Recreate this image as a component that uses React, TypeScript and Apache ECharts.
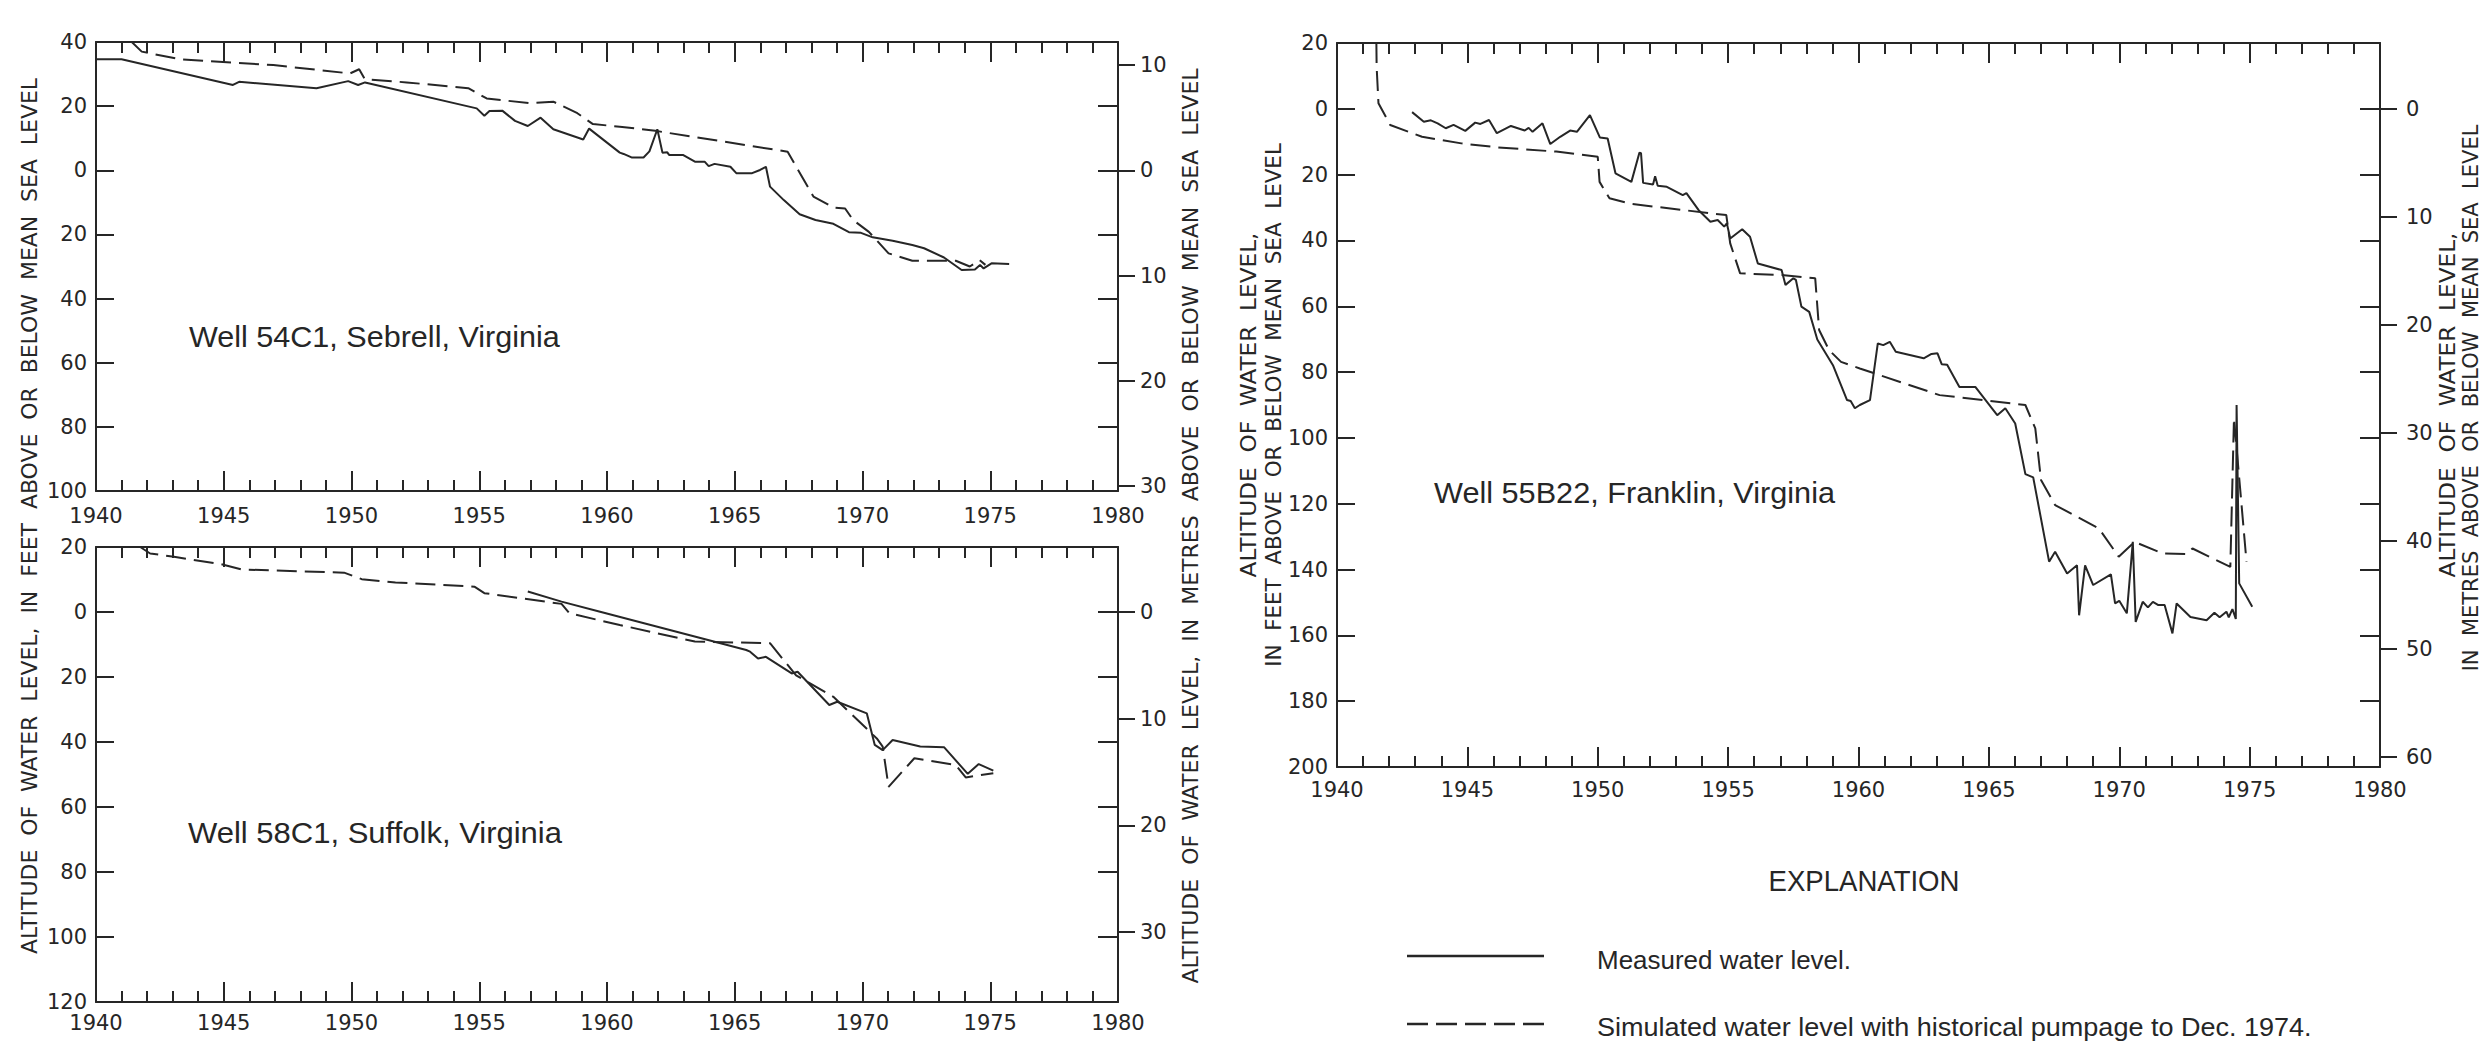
import React, { useEffect, useRef } from "react";
import * as echarts from "echarts";

// ---------- DATA ----------
const FT_PER_M = 3.28084;
const YEAR_MIN = 1940;
const YEAR_MAX = 1980;
const YEAR_STEP = 5;

// altitude ranges in feet (positive = above sea level)
const sebrellFeetRange = [-100, 40];
const suffolkFeetRange = [-120, 20];
const franklinFeetRange = [-200, 20];
const FEET_STEP = 20;

// metre tick values (right axes)
const sebrellMetreTicks = [-30, -20, -10, 0, 10];
const suffolkMetreTicks = [-30, -20, -10, 0];
const franklinMetreTicks = [-60, -50, -40, -30, -20, -10, 0];

// [year, altitude in feet]
const sebrellMeasured = [
  [1940.0, 34.6], [1941.0, 34.6], [1945.36, 26.6], [1945.6, 27.6], [1948.63, 25.6],
  [1949.87, 27.8], [1950.26, 26.6], [1950.53, 27.4], [1954.9, 19.3], [1955.2, 17.0],
  [1955.4, 18.5], [1955.9, 18.6], [1956.4, 15.4], [1956.9, 13.8], [1957.4, 16.4],
  [1957.9, 12.8], [1959.07, 9.6], [1959.3, 13.0], [1960.5, 5.5], [1960.65, 5.1],
  [1960.96, 4.0], [1961.43, 4.0], [1961.66, 5.9], [1961.97, 12.8], [1962.17, 5.5],
  [1962.36, 5.6], [1962.43, 4.8], [1962.97, 4.8], [1963.44, 2.7], [1963.82, 2.7],
  [1963.98, 1.3], [1964.21, 2.0], [1964.83, 1.1], [1965.06, -0.9], [1965.68, -0.9],
  [1965.99, 0.1], [1966.22, 1.1], [1966.38, -5.1], [1966.92, -9.3], [1967.54, -13.7],
  [1968.16, -15.5], [1968.86, -16.7], [1969.47, -19.3], [1969.94, -19.5], [1970.4, -20.9],
  [1971.18, -22.0], [1971.95, -23.3], [1972.41, -24.3], [1973.19, -27.2], [1973.88, -31.1],
  [1974.4, -30.9], [1974.6, -29.5], [1974.74, -30.6], [1975.05, -29.0], [1975.74, -29.2],
];
const sebrellSimulated = [
  [1941.4, 40.0], [1941.79, 37.0], [1943.29, 34.6], [1946.94, 32.8], [1949.94, 30.2],
  [1950.3, 31.5], [1950.52, 28.4], [1952.16, 27.4], [1954.57, 25.6], [1955.29, 22.4],
  [1956.99, 20.9], [1957.9, 21.4], [1958.84, 17.8], [1959.45, 14.4], [1960.5, 13.6],
  [1961.89, 12.3], [1967.07, 5.8], [1968.08, -8.2], [1968.86, -11.6], [1969.32, -11.9],
  [1969.63, -15.5], [1970.25, -19.2], [1971.02, -25.9], [1971.95, -28.2], [1973.65, -28.2],
  [1974.2, -30.0], [1974.58, -28.0], [1974.81, -29.5],
];

const suffolkMeasured = [
  [1956.9, 6.3], [1958.22, 3.2], [1959.73, 0.1], [1965.45, -11.7], [1965.6, -12.2],
  [1965.91, -14.3], [1966.22, -13.8], [1967.23, -18.9], [1967.46, -18.4], [1968.7, -28.6],
  [1969.01, -27.6], [1970.17, -31.2], [1970.48, -40.9], [1970.79, -42.5], [1971.18, -39.4],
  [1972.26, -41.4], [1973.19, -41.6], [1974.12, -49.8], [1974.55, -46.8], [1975.12, -48.8],
];
const suffolkSimulated = [
  [1941.73, 20.0], [1942.12, 18.0], [1943.05, 17.0], [1944.9, 14.7], [1945.68, 13.1],
  [1949.71, 12.1], [1950.4, 10.1], [1951.72, 9.1], [1954.81, 7.8], [1955.2, 5.8],
  [1958.22, 2.5], [1958.53, -0.4], [1960.5, -4.0], [1963.44, -9.1], [1966.38, -9.6],
  [1967.4, -19.5], [1968.86, -26.1], [1970.56, -38.9], [1970.79, -41.4], [1971.02, -53.8],
  [1972.03, -45.0], [1973.65, -47.1], [1974.04, -50.9], [1975.12, -49.6],
];

const franklinMeasured = [
  [1942.88, -1.0], [1943.33, -3.9], [1943.6, -3.5], [1943.86, -4.4], [1944.17, -5.9],
  [1944.47, -4.9], [1944.92, -6.7], [1945.3, -4.2], [1945.5, -4.6], [1945.83, -3.4],
  [1946.13, -7.4], [1946.67, -5.2], [1947.2, -6.6], [1947.35, -5.8], [1947.5, -7.0],
  [1947.88, -4.4], [1948.18, -10.7], [1948.56, -8.5], [1948.94, -6.6], [1949.2, -7.0],
  [1949.7, -1.9], [1950.08, -8.7], [1950.38, -9.0], [1950.68, -19.6], [1951.29, -22.2],
  [1951.6, -13.3], [1951.66, -13.5], [1951.74, -22.5], [1952.12, -23.0], [1952.2, -20.5],
  [1952.3, -23.4], [1952.65, -23.7], [1953.26, -26.2], [1953.4, -25.6], [1953.87, -30.8],
  [1954.32, -34.3], [1954.6, -33.8], [1954.85, -35.8], [1954.95, -34.8], [1955.08, -39.4],
  [1955.54, -36.6], [1955.84, -38.9], [1956.14, -47.0], [1957.05, -49.0], [1957.2, -53.5],
  [1957.5, -51.5], [1957.6, -52.0], [1957.81, -60.1], [1958.11, -61.7], [1958.42, -70.1],
  [1959.02, -77.9], [1959.56, -88.5], [1959.7, -88.8], [1959.86, -91.0], [1960.05, -90.0],
  [1960.44, -88.5], [1960.74, -71.3], [1960.95, -71.8], [1961.2, -70.8], [1961.43, -73.8],
  [1962.5, -75.8], [1962.8, -74.5], [1963.03, -74.3], [1963.19, -77.6], [1963.4, -77.8],
  [1963.87, -84.5], [1964.48, -84.5], [1965.32, -93.1], [1965.63, -91.0], [1966.01, -95.6],
  [1966.4, -111.0], [1966.7, -112.0], [1967.31, -137.6], [1967.54, -134.6], [1968.0, -141.2],
  [1968.38, -138.7], [1968.46, -153.9], [1968.69, -138.7], [1969.0, -144.7], [1969.68, -141.5],
  [1969.84, -150.3], [1970.0, -149.5], [1970.29, -153.3], [1970.52, -131.6], [1970.63, -155.9],
  [1970.9, -149.8], [1971.1, -151.5], [1971.29, -149.8], [1971.5, -150.8], [1971.74, -150.8],
  [1972.04, -159.4], [1972.2, -150.3], [1972.73, -154.4], [1973.35, -155.4], [1973.65, -153.1],
  [1973.85, -154.5], [1974.11, -152.8], [1974.2, -154.5], [1974.34, -152.0], [1974.47, -155.0],
  [1974.5, -90.0], [1974.6, -144.2], [1975.1, -151.3],
];
const franklinSimulated = [
  [1941.51, 20.0], [1941.52, 12.8], [1941.59, 1.7], [1942.04, -4.9], [1943.26, -8.5],
  [1944.77, -10.5], [1946.13, -11.7], [1948.41, -13.0], [1950.0, -14.6], [1950.07, -22.2],
  [1950.45, -27.2], [1951.29, -28.9], [1954.93, -32.3], [1955.08, -40.9], [1955.46, -50.0],
  [1957.05, -50.5], [1958.34, -51.5], [1958.49, -67.2], [1958.87, -73.3], [1959.33, -76.9],
  [1960.05, -78.9], [1963.11, -87.0], [1966.4, -90.0], [1966.78, -97.1], [1967.0, -112.8],
  [1967.54, -120.4], [1969.22, -127.5], [1969.98, -136.1], [1970.59, -131.6], [1971.66, -135.1],
  [1972.58, -135.3], [1972.81, -133.6], [1974.26, -139.2], [1974.4, -94.0], [1974.88, -137.6],
];

const wellTitles = [
  "Well 54C1, Sebrell, Virginia",
  "Well 58C1, Suffolk, Virginia",
  "Well 55B22, Franklin, Virginia",
];
const legendTitle = "EXPLANATION";
const legendItems = [
  "Measured water level.",
  "Simulated water level with historical pumpage to Dec. 1974.",
];
const feetAxisTitle = "ALTITUDE OF WATER LEVEL, IN FEET ABOVE OR BELOW MEAN SEA LEVEL";
const metreAxisTitle = "ALTITUDE OF WATER LEVEL, IN METRES ABOVE OR BELOW MEAN SEA LEVEL";
const franklinFeetTitle = ["ALTITUDE OF WATER LEVEL,", "IN FEET ABOVE OR BELOW MEAN SEA LEVEL"];
const franklinMetreTitle = ["ALTITUDE OF WATER LEVEL,", "IN METRES ABOVE OR BELOW MEAN SEA LEVEL"];

// ---------- STYLE / LAYOUT ----------
const INK = "#262626";
const TICK_FONT = "DejaVu Sans";
const TICK_SIZE = 21;
const DASH = [20, 8];

const panels = [
  { grid: { left: 96, top: 42, width: 1022, height: 449 }, range: sebrellFeetRange, metres: sebrellMetreTicks, mMargin: 22, xMargin: 14, measured: sebrellMeasured, simulated: sebrellSimulated },
  { grid: { left: 96, top: 547, width: 1022, height: 455 }, range: suffolkFeetRange, metres: suffolkMetreTicks, mMargin: 22, xMargin: 10, measured: suffolkMeasured, simulated: suffolkSimulated },
  { grid: { left: 1337, top: 43, width: 1043, height: 724 }, range: franklinFeetRange, metres: franklinMetreTicks, mMargin: 26, xMargin: 12, measured: franklinMeasured, simulated: franklinSimulated },
];

function measure(text: string, font: string): number {
  const ctx = document.createElement("canvas").getContext("2d");
  if (!ctx) return 1;
  ctx.font = font;
  return ctx.measureText(text).width || 1;
}

function fitText(
  text: string, x: number, y: number, size: number, family: string,
  width: number, align: string, rotate = 0
) {
  const font = `${size}px "${family}"`;
  const sx = width / measure(text, font);
  return {
    type: "text",
    x, y,
    rotation: rotate,
    scaleX: sx,
    silent: true,
    style: {
      text, font, fill: INK,
      textAlign: align, textVerticalAlign: "middle",
      align, verticalAlign: "middle",
    },
  };
}

const spaced = (s: string) => s.split(" ").join("  ");

function buildOption() {
  const lineStyleAxis = { color: INK, width: 2 };
  const labelBase = { fontFamily: TICK_FONT, fontSize: TICK_SIZE, color: INK };
  const grid: any[] = [];
  const xAxis: any[] = [];
  const yAxis: any[] = [];
  const series: any[] = [];

  panels.forEach((p, gi) => {
    grid.push({ ...p.grid, containLabel: false });
    const xBase = {
      type: "value", gridIndex: gi, min: YEAR_MIN, max: YEAR_MAX, interval: YEAR_STEP,
      axisLine: { show: true, onZero: false, lineStyle: lineStyleAxis },
      axisTick: { show: true, inside: true, length: 20, lineStyle: lineStyleAxis },
      minorTick: { show: true, splitNumber: 5, length: 11, lineStyle: lineStyleAxis },
      splitLine: { show: false }, minorSplitLine: { show: false },
    };
    xAxis.push({ ...xBase, position: "bottom", axisLabel: { ...labelBase, show: true, margin: p.xMargin, formatter: (v: number) => String(v) } });
    xAxis.push({ ...xBase, position: "top", axisLabel: { show: false } });

    const [fmin, fmax] = p.range;
    yAxis.push({
      type: "value", gridIndex: gi, position: "left", min: fmin, max: fmax, interval: FEET_STEP,
      axisLine: { show: true, onZero: false, lineStyle: lineStyleAxis },
      axisTick: { show: true, inside: true, length: 18, lineStyle: lineStyleAxis },
      axisLabel: { ...labelBase, margin: 9, showMinLabel: true, showMaxLabel: true, formatter: (v: number) => String(Math.abs(v)) },
      splitLine: { show: false },
    });
    yAxis.push({
      type: "value", gridIndex: gi, position: "right", min: fmin, max: fmax, interval: FEET_STEP,
      axisLine: { show: true, onZero: false, lineStyle: lineStyleAxis },
      axisTick: { show: true, inside: true, length: 20, lineStyle: lineStyleAxis },
      axisLabel: { show: false },
      splitLine: { show: false },
    });
    yAxis.push({
      type: "value", gridIndex: gi, position: "right", min: fmin / FT_PER_M, max: fmax / FT_PER_M,
      axisLine: { show: false, onZero: false },
      axisTick: { show: true, inside: false, length: 17, lineStyle: lineStyleAxis, customValues: p.metres },
      axisLabel: { ...labelBase, margin: p.mMargin, customValues: p.metres, formatter: (v: number) => String(Math.abs(Math.round(v))) },
      splitLine: { show: false },
    });

    const common = {
      type: "line", xAxisIndex: gi * 2, yAxisIndex: gi * 3, showSymbol: false, symbol: "none",
      silent: true, clip: true,
    };
    series.push({ ...common, name: legendItems[0], data: p.measured, lineStyle: { color: INK, width: 2, type: "solid" } });
    series.push({ ...common, name: legendItems[1], data: p.simulated, lineStyle: { color: INK, width: 2, type: DASH } });
  });

  const graphic: any[] = [
    fitText(wellTitles[0], 189, 337, 30, "Liberation Sans", 371, "left"),
    fitText(wellTitles[1], 188, 832, 30, "Liberation Sans", 374, "left"),
    fitText(wellTitles[2], 1434, 493, 30, "Liberation Sans", 401, "left"),
    fitText(spaced(feetAxisTitle), 30, 516, 21, "DejaVu Sans", 876, "center", Math.PI / 2),
    fitText(spaced(metreAxisTitle), 1191, 526, 21, "DejaVu Sans", 915, "center", Math.PI / 2),
    fitText(spaced(franklinFeetTitle[0]), 1248, 405, 21, "DejaVu Sans", 345, "center", Math.PI / 2),
    fitText(spaced(franklinFeetTitle[1]), 1274, 405, 21, "DejaVu Sans", 524, "center", Math.PI / 2),
    fitText(spaced(franklinMetreTitle[0]), 2447, 405, 21, "DejaVu Sans", 345, "center", Math.PI / 2),
    fitText(spaced(franklinMetreTitle[1]), 2471, 398, 21, "DejaVu Sans", 547, "center", Math.PI / 2),
    fitText(legendTitle, 1864, 881, 30, "Liberation Sans", 191, "center"),
    fitText(legendItems[0], 1597, 960, 25, "Liberation Sans", 254, "left"),
    fitText(legendItems[1], 1597, 1027, 25, "Liberation Sans", 715, "left"),
    { type: "line", silent: true, shape: { x1: 1407, y1: 956, x2: 1544, y2: 956 }, style: { stroke: INK, lineWidth: 2.5 } },
    { type: "line", silent: true, shape: { x1: 1407, y1: 1024, x2: 1544, y2: 1024 }, style: { stroke: INK, lineWidth: 2.5, lineDash: [21, 8] } },
  ];

  return {
    animation: false,
    backgroundColor: "#ffffff",
    grid, xAxis, yAxis, series, graphic,
  };
}

export default function App() {
  const ref = useRef<HTMLDivElement>(null);
  useEffect(() => {
    document.body.style.margin = "0";
    if (!ref.current) return;
    const chart = echarts.init(ref.current, undefined, { renderer: "svg" });
    chart.setOption(buildOption() as any);
    return () => chart.dispose();
  }, []);
  return (
    <div
      ref={ref}
      style={{ position: "absolute", left: 0, top: 0, width: 2485, height: 1058, background: "#fff" }}
    />
  );
}
